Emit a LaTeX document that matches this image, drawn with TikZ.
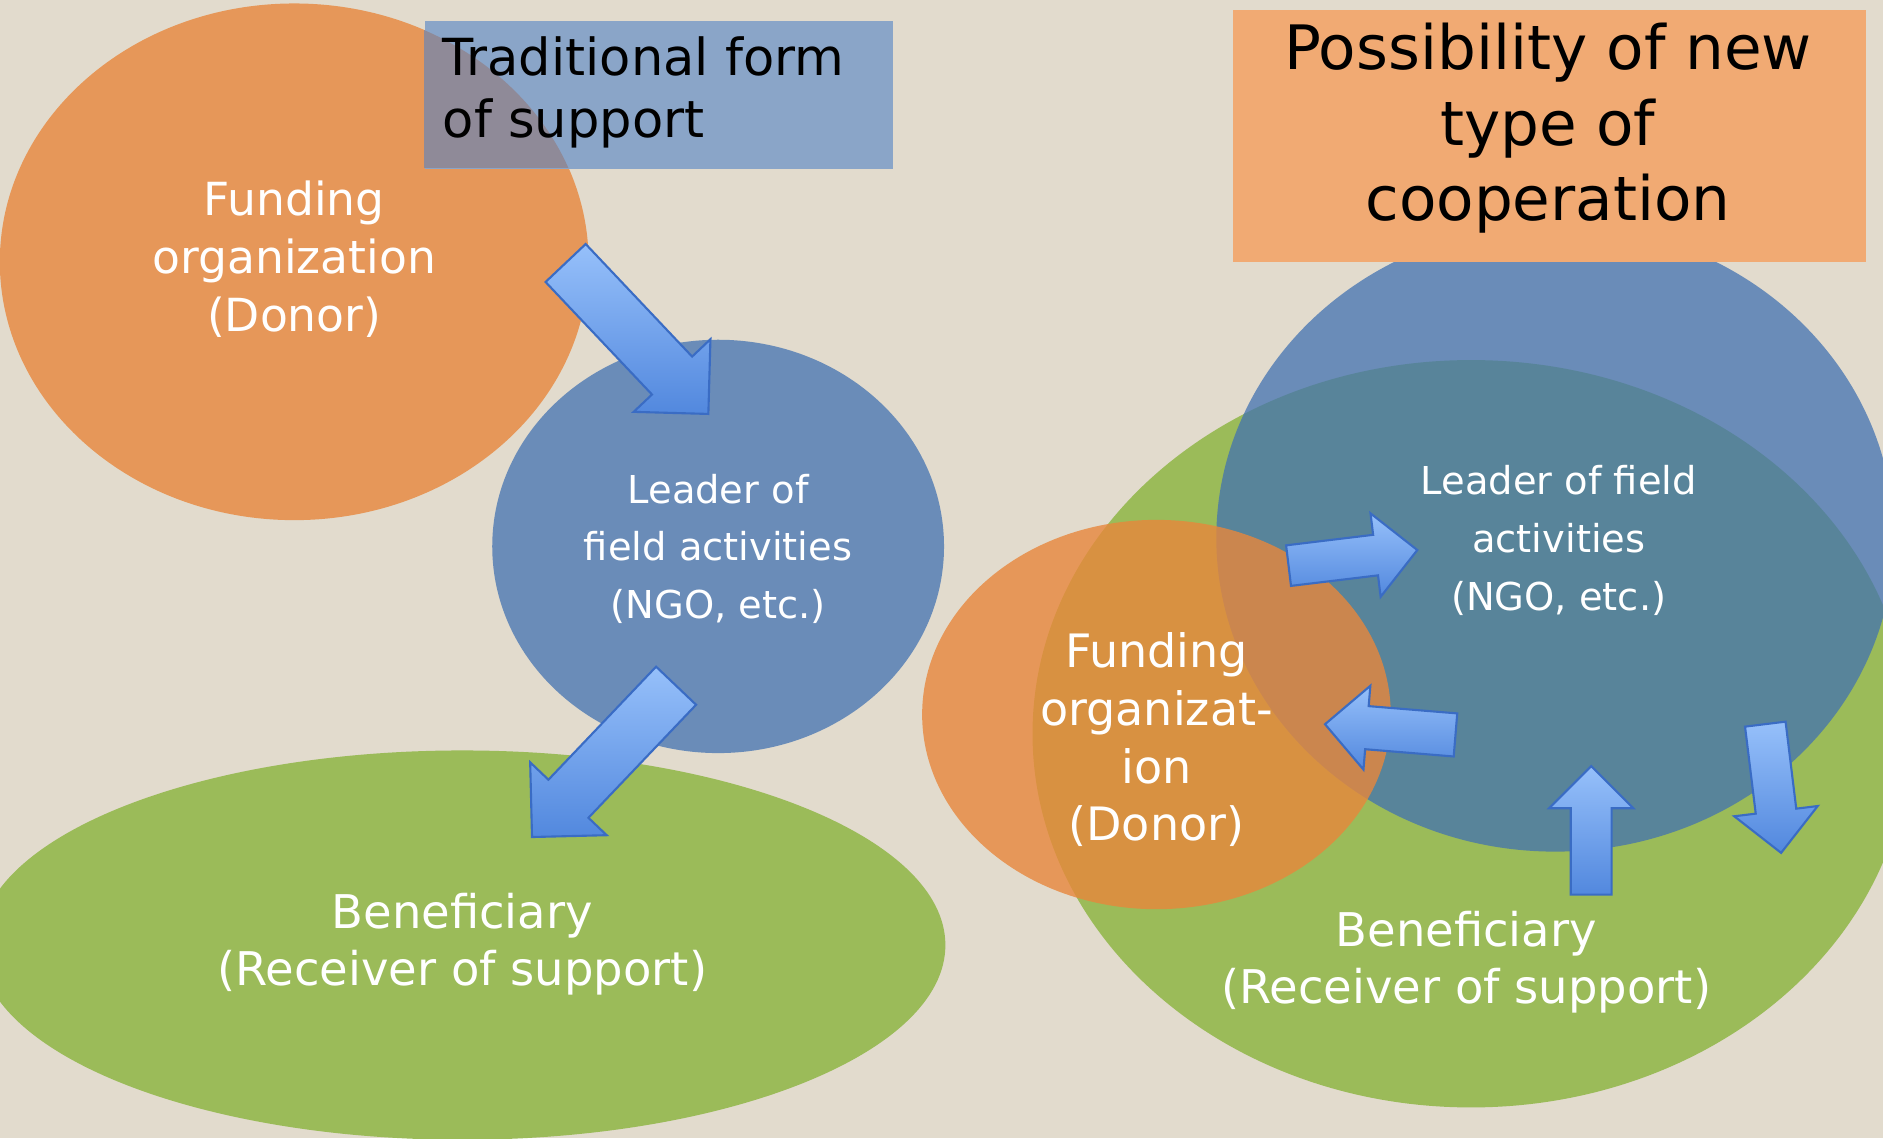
\documentclass[tikz,border=0pt]{standalone}
\usepackage{fontspec}
\setmainfont{DejaVu Sans}
\usetikzlibrary{shapes.geometric}

\definecolor{paper}{RGB}{226,219,205}
\definecolor{donorc}{RGB}{232,135,60}
\definecolor{ngoc}{RGB}{66,114,177}
\definecolor{benefc}{RGB}{155,187,89}
\definecolor{titleblue}{RGB}{138,165,200}
\definecolor{titlemix}{RGB}{143,138,152}
\definecolor{titleorange}{RGB}{241,170,115}
\definecolor{arrowlight}{RGB}{150,192,250}
\definecolor{arrowdark}{RGB}{82,136,222}
\definecolor{arrowline}{RGB}{58,108,196}

\begin{document}
\begin{tikzpicture}[x=0.01cm, y=-0.01cm,
    blob/.style={ellipse, inner sep=0pt},
    donor/.style={blob, fill=donorc, fill opacity=0.8},
    ngo/.style={blob, fill=ngoc, fill opacity=0.75},
    benef/.style={blob, fill=benefc},
    txt/.style={text=white, align=center, inner sep=0pt},
    bigarrow/.style={top color=arrowlight, bottom color=arrowdark,
      draw=arrowline, line width=0.5pt}]

  \clip (0,0) rectangle (1568,948);
  \fill[paper] (0,0) rectangle (1568,948);

  % traditional form
  \node[benef, minimum width=8.04cm, minimum height=3.24cm] (benefL) at (385,787) {};
  \node[ngo, minimum width=3.76cm, minimum height=3.44cm] (leaderL) at (598,455) {};
  \node[donor, minimum width=4.9cm, minimum height=4.3cm] (donorL) at (245,218) {};
  \node[fill=titleblue, inner sep=0pt, minimum width=3.9cm, minimum height=1.23cm,
    anchor=north west] (tradbox) at (353,17) {};
  \begin{scope}
    \clip (245,218) ellipse [x radius=245, y radius=215];
    \fill[titlemix] (353,17) rectangle (743,140);
  \end{scope}

  % new type of cooperation
  \node[benef, minimum width=7.3cm, minimum height=6.22cm] (benefR) at (1225,611) {};
  \node[ngo, minimum width=5.64cm, minimum height=5.22cm] (leaderR) at (1295,448) {};
  \node[donor, minimum width=3.9cm, minimum height=3.24cm] (donorR) at (963,595) {};
  \node[fill=titleorange, inner sep=0pt, minimum width=5.27cm, minimum height=2.09cm,
    anchor=north west] (newbox) at (1026,8) {};

  \foreach \px/\py/\a/\l/\s/\w/\h in {471/219/-46.6/173/23/44/44,
      563/571/-133.6/174/23/44/44, 1073/471/6.9/108/17/35/35,
      1212/612/175.3/109/18/35/35, 1325/745/90/107/17/35/35,
      1470/603/-83/108/17/35/35}
    \shade[bigarrow, shift={(\px,\py)}, rotate=\a] (0,-\s) -- (\l-\h,-\s)
      -- (\l-\h,-\w) -- (\l,0) -- (\l-\h,\w) -- (\l-\h,\s) -- (0,\s) -- cycle;

  \node[anchor=west, align=left, inner sep=0pt,
    font=\fontsize{12.1pt}{14.8pt}\selectfont] (tradtitle) at (368,77)
    {Traditional form\\of support};
  \node[align=center, inner sep=0pt, font=\fontsize{14.5pt}{17.9pt}\selectfont]
    (newtitle) at (1289,107) {Possibility of new\\type of\\cooperation};

  \node[txt, font=\fontsize{10.8pt}{13.7pt}\selectfont] (donorLtxt) at (245,216)
    {Funding\\organization\\(Donor)};
  \node[txt, font=\fontsize{9.1pt}{13.7pt}\selectfont] (leaderLtxt) at (598,457)
    {Leader of\\field activities\\(NGO, etc.)};
  \node[txt, font=\fontsize{11pt}{13.4pt}\selectfont] (benefLtxt) at (385,786)
    {Beneficiary\\(Receiver of support)};

  \node[txt, font=\fontsize{9.1pt}{13.7pt}\selectfont] (leaderRtxt) at (1298,450)
    {Leader of field\\activities\\(NGO, etc.)};
  \node[txt, font=\fontsize{10.9pt}{13.7pt}\selectfont] (donorRtxt) at (963,616)
    {Funding\\organizat-\\ion\\(Donor)};
  \node[txt, font=\fontsize{11pt}{13.4pt}\selectfont] (benefRtxt) at (1221,801)
    {Beneficiary\\(Receiver of support)};
\end{tikzpicture}
\end{document}
